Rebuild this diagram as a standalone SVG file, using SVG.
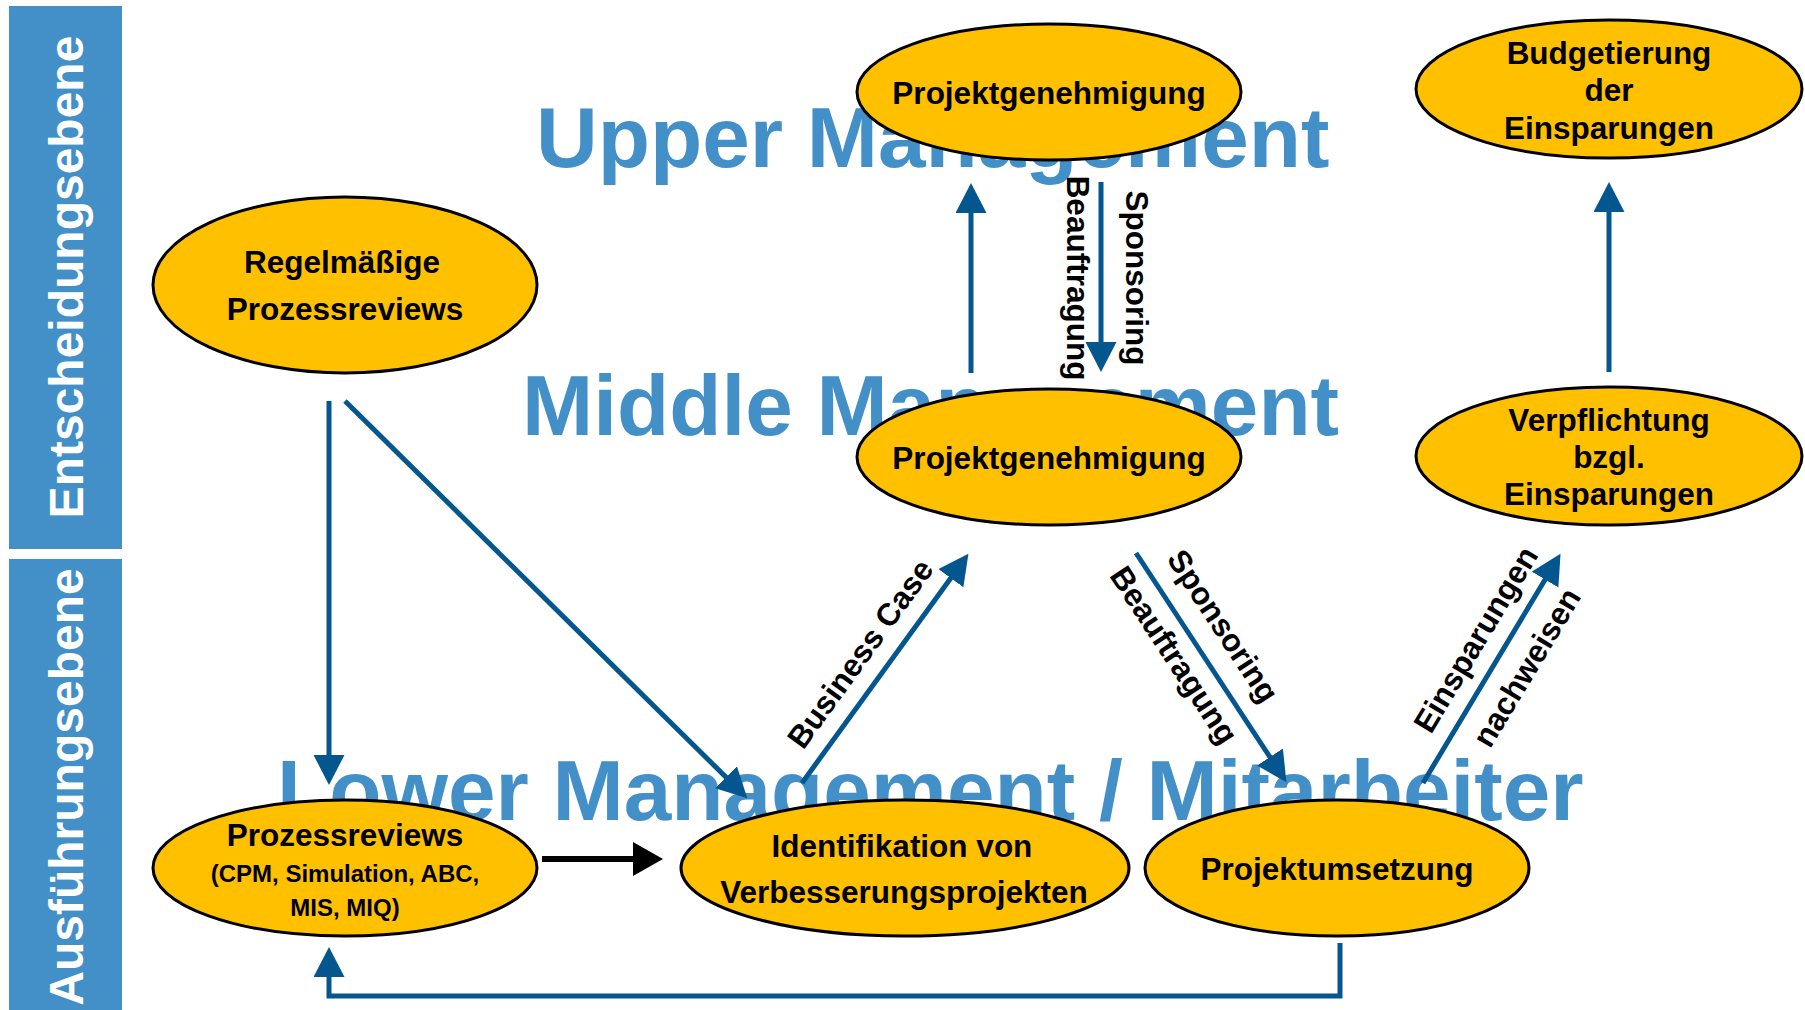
<svg xmlns="http://www.w3.org/2000/svg" width="1805" height="1010" viewBox="0 0 1805 1010">
  <style>
    text { font-family: "Liberation Sans", Arial, Helvetica, sans-serif; font-weight: bold; }
    .side { fill: #4390C8; }
    .sidet { fill: #ffffff; font-size: 48px; text-anchor: middle; }
    .level { fill: #4390C8; font-size: 85.5px; }
    .node ellipse { fill: #FFC000; stroke: #000000; stroke-width: 3; }
    .node text { font-size: 31.5px; text-anchor: middle; fill: #000000; }
    .node text.small { font-size: 24px; }
    .conn { fill: none; stroke: #04568F; stroke-width: 5; }
    .conn.black { stroke: #000000; stroke-width: 6; }
    .lbl { font-size: 31.5px; text-anchor: middle; fill: #000000; }
  </style>
  <defs>
    <marker id="head" markerUnits="userSpaceOnUse" markerWidth="32" markerHeight="32" refX="1" refY="15.5" orient="auto">
      <path d="M0,0 L30,15.5 L0,31 Z" fill="#04568F"/>
    </marker>
    <marker id="headBlack" markerUnits="userSpaceOnUse" markerWidth="32" markerHeight="36" refX="1" refY="17" orient="auto">
      <path d="M0,0 L30,17 L0,34 Z" fill="#000000"/>
    </marker>
  </defs>

  <rect x="0" y="0" width="1805" height="1010" fill="#ffffff"/>

  <!-- level side bars -->
  <g id="side-bars">
    <rect class="side" x="9" y="6" width="113" height="543"/>
    <text class="sidet" transform="translate(83,277) rotate(-90)">Entscheidungsebene</text>
    <rect class="side" x="9" y="559" width="113" height="451"/>
    <text class="sidet" transform="translate(83,787) rotate(-90)">Ausführungsebene</text>
  </g>

  <!-- management level headings -->
  <g id="levels">
    <text class="level" x="536" y="167">Upper Management</text>
    <text class="level" x="522" y="435">Middle Management</text>
    <text class="level" x="277" y="820">Lower Management / Mitarbeiter</text>
  </g>

  <!-- nodes -->
  <g id="node-upper-approval" class="node">
    <ellipse cx="1049" cy="92" rx="192" ry="68"/>
    <text x="1049" y="104">Projektgenehmigung</text>
  </g>
  <g id="node-budget" class="node">
    <ellipse cx="1609" cy="89" rx="193" ry="69"/>
    <text x="1609" y="63.5">Budgetierung</text>
    <text x="1609" y="101">der</text>
    <text x="1609" y="139">Einsparungen</text>
  </g>
  <g id="node-regular-reviews" class="node">
    <ellipse cx="345" cy="285" rx="192" ry="88"/>
    <text x="342" y="273">Regelmäßige</text>
    <text x="345" y="320">Prozessreviews</text>
  </g>
  <g id="node-middle-approval" class="node">
    <ellipse cx="1049" cy="457" rx="192" ry="68"/>
    <text x="1049" y="469">Projektgenehmigung</text>
  </g>
  <g id="node-commitment" class="node">
    <ellipse cx="1609" cy="456" rx="193" ry="69"/>
    <text x="1609" y="430.5">Verpflichtung</text>
    <text x="1609" y="468">bzgl.</text>
    <text x="1609" y="505">Einsparungen</text>
  </g>
  <g id="node-process-reviews" class="node">
    <ellipse cx="345" cy="868" rx="192" ry="68"/>
    <text x="345" y="846">Prozessreviews</text>
    <text class="small" x="345" y="882">(CPM, Simulation, ABC,</text>
    <text class="small" x="345" y="916">MIS, MIQ)</text>
  </g>
  <g id="node-identification" class="node">
    <ellipse cx="905" cy="868" rx="224" ry="68"/>
    <text x="902" y="857">Identifikation von</text>
    <text x="904" y="903">Verbesserungsprojekten</text>
  </g>
  <g id="node-implementation" class="node">
    <ellipse cx="1337" cy="868" rx="192" ry="68"/>
    <text x="1337" y="880">Projektumsetzung</text>
  </g>

  <!-- connectors -->
  <g id="connectors">
    <path class="conn" d="M971,373 V212" marker-end="url(#head)"/>
    <path class="conn" d="M1101,182 V343" marker-end="url(#head)"/>
    <text class="lbl" transform="translate(1067,278) rotate(90)">Beauftragung</text>
    <text class="lbl" transform="translate(1126,278) rotate(90)">Sponsoring</text>

    <path class="conn" d="M1609,372 V211" marker-end="url(#head)"/>

    <path class="conn" d="M329,401 V756" marker-end="url(#head)"/>
    <path class="conn" d="M345,401 L726.7,777.9" marker-end="url(#head)"/>

    <path class="conn black" d="M542,859 H634" marker-end="url(#headBlack)"/>

    <path class="conn" d="M802,783 L951.4,577.3" marker-end="url(#head)"/>
    <text class="lbl" transform="translate(869,660) rotate(-54)">Business Case</text>

    <path class="conn" d="M1136,553 L1270.5,757.9" marker-end="url(#head)"/>
    <text class="lbl" transform="translate(1214,632) rotate(56.7)">Sponsoring</text>
    <text class="lbl" transform="translate(1165,661) rotate(56.7)">Beauftragung</text>

    <path class="conn" d="M1423,783 L1545.6,578.7" marker-end="url(#head)"/>
    <text class="lbl" transform="translate(1485,645) rotate(-59)">Einsparungen</text>
    <text class="lbl" transform="translate(1536,673) rotate(-59)">nachweisen</text>

    <path class="conn" d="M1340,943 V996 H329 V976" marker-end="url(#head)"/>
  </g>
</svg>
